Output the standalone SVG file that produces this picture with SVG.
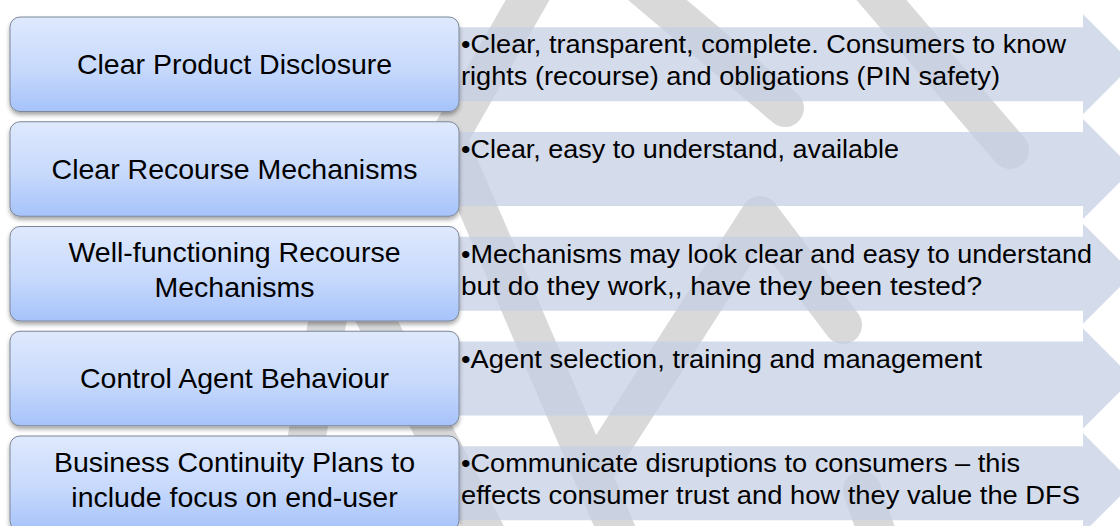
<svg xmlns="http://www.w3.org/2000/svg" width="1120" height="526" viewBox="0 0 1120 526">
  <defs>
    <linearGradient id="boxFill" x1="0" y1="0" x2="0" y2="1">
      <stop offset="0" stop-color="#dfe9fd"/>
      <stop offset="0.55" stop-color="#c7d9fc"/>
      <stop offset="1" stop-color="#a6c3fa"/>
    </linearGradient>
    <filter id="shadow" x="-5%" y="-10%" width="110%" height="130%">
      <feDropShadow dx="0" dy="3" stdDeviation="2" flood-color="#000" flood-opacity="0.35"/>
    </filter>
    <style>
      .wm { fill: none; stroke: #d9d9d9; stroke-width: 38; stroke-linecap: round; stroke-linejoin: round; }
      .arrow { fill: #c3cde3; fill-opacity: 0.72; }
      .box { fill: url(#boxFill); stroke: #7d8799; stroke-width: 1; filter: url(#shadow); }
      .label { font-family: "Liberation Sans", Arial, sans-serif; font-size: 28.5px; fill: #000; text-anchor: middle; }
      .detail { font-family: "Liberation Sans", Arial, sans-serif; font-size: 26.5px; fill: #000; }
    </style>
  </defs>
  <rect width="1120" height="526" fill="#ffffff"/>

  <g id="watermark">
    <path class="wm" d="M 785,108 L 570,-74 L 448,139 L 640,585"/>
    <path class="wm" d="M 830,-60 L 1010,150"/>
    <path class="wm" d="M 843,325 L 760,215 L 593,475"/>
    <path class="wm" d="M 862,490 L 900,600"/>
    <path class="wm" d="M 285,560 L 340,250 L 500,560"/>
  </g>

  <g id="connectors"></g>

  <g id="item-1">
    <path class="arrow" d="M 440,27.25 H 1083 V 14.25 L 1133,64.25 L 1083,114.25 V 101.25 H 440 Z"/>
    <rect class="box" x="10" y="17" width="449" height="94.5" rx="10"/>
    <text class="label" x="234.5" y="73.75">Clear Product Disclosure</text>
    <text class="detail" x="461" y="53.25" textLength="605" lengthAdjust="spacingAndGlyphs">•Clear, transparent, complete. Consumers to know</text>
    <text class="detail" x="461" y="85.25" textLength="539" lengthAdjust="spacingAndGlyphs">rights (recourse) and obligations (PIN safety)</text>
  </g>

  <g id="item-2">
    <path class="arrow" d="M 440,132 H 1083 V 119 L 1133,169 L 1083,219 V 206 H 440 Z"/>
    <rect class="box" x="10" y="121.75" width="449" height="94.5" rx="10"/>
    <text class="label" x="234.5" y="178.5">Clear Recourse Mechanisms</text>
    <text class="detail" x="461" y="158" textLength="438" lengthAdjust="spacingAndGlyphs">•Clear, easy to understand, available</text>
  </g>

  <g id="item-3">
    <path class="arrow" d="M 440,236.75 H 1083 V 223.75 L 1133,273.75 L 1083,323.75 V 310.75 H 440 Z"/>
    <rect class="box" x="10" y="226.5" width="449" height="94.5" rx="10"/>
    <text class="label" x="234.5" y="262.25">Well-functioning Recourse</text>
    <text class="label" x="234.5" y="297.25">Mechanisms</text>
    <text class="detail" x="461" y="262.75" textLength="631" lengthAdjust="spacingAndGlyphs">•Mechanisms may look clear and easy to understand</text>
    <text class="detail" x="461" y="294.75" textLength="521" lengthAdjust="spacingAndGlyphs">but do they work,, have they been tested?</text>
  </g>

  <g id="item-4">
    <path class="arrow" d="M 440,341.5 H 1083 V 328.5 L 1133,378.5 L 1083,428.5 V 415.5 H 440 Z"/>
    <rect class="box" x="10" y="331.25" width="449" height="94.5" rx="10"/>
    <text class="label" x="234.5" y="388">Control Agent Behaviour</text>
    <text class="detail" x="461" y="367.5" textLength="521" lengthAdjust="spacingAndGlyphs">•Agent selection, training and management</text>
  </g>

  <g id="item-5">
    <path class="arrow" d="M 440,446.25 H 1083 V 433.25 L 1133,483.25 L 1083,533.25 V 520.25 H 440 Z"/>
    <rect class="box" x="10" y="436" width="449" height="94.5" rx="10"/>
    <text class="label" x="234.5" y="471.75">Business Continuity Plans to</text>
    <text class="label" x="234.5" y="506.75">include focus on end-user</text>
    <text class="detail" x="461" y="472.25" textLength="559" lengthAdjust="spacingAndGlyphs">•Communicate disruptions to consumers – this</text>
    <text class="detail" x="461" y="504.25" textLength="619" lengthAdjust="spacingAndGlyphs">effects consumer trust and how they value the DFS</text>
  </g>
</svg>
